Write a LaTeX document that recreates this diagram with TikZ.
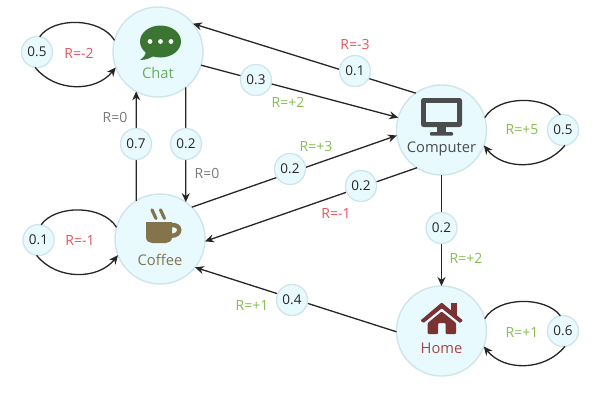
\documentclass[tikz,border=0pt]{standalone}
\usepackage{fontspec}
\setmainfont{Open Sans}
\usetikzlibrary{arrows.meta}
\definecolor{nodefill}{HTML}{E8FAFE}
\definecolor{nodeline}{HTML}{CFE5EB}
\definecolor{edgecol}{HTML}{262626}
\definecolor{rred}{HTML}{E8545C}
\definecolor{rgreen}{HTML}{86BE50}
\definecolor{rgray}{HTML}{7A7A7A}
\definecolor{chatcol}{HTML}{3A7531}
\definecolor{chattxt}{HTML}{66AD5C}
\definecolor{compcol}{HTML}{4A4C4E}
\definecolor{coffcol}{HTML}{84744B}
\definecolor{homecol}{HTML}{7B3232}
\definecolor{hometxt}{HTML}{A84444}
\tikzset{
  statenode/.style={circle,draw=nodeline,fill=nodefill,line width=1.4pt,minimum size=90pt,inner sep=0pt,outer sep=0pt},
  probnode/.style={circle,draw=nodeline,fill=nodefill,line width=1.3pt,minimum size=31pt,inner sep=0pt,outer sep=0pt,font=\fontsize{13.5}{15}\selectfont,text=black!85},
  edgeline/.style={draw=edgecol,line width=1.3pt},
  arrowline/.style={edgeline,-{Stealth[length=9pt,width=8pt]}},
  rewardlab/.style={inner sep=0pt,font=\fontsize{14}{16}\selectfont},
  namelab/.style={inner sep=0pt,anchor=base,font=\fontsize{14.7}{16}\selectfont}
}
\begin{document}
\begin{tikzpicture}[x=1pt,y=-1pt]
\useasboundingbox (0,0) rectangle (600,400);
\fill[white] (0,0) rectangle (600,400);
\node[statenode] (chat) at (158,52) {};
\node[statenode] (comp) at (441.5,130) {};
\node[statenode] (coff) at (160,239) {};
\node[statenode] (home) at (441.5,331) {};
% connectors
\draw[arrowline] (chat.-17) -- (comp.164);
\draw[arrowline] (comp.125) -- (chat.39);
\draw[arrowline] (coff.122) -- (chat.-119);
\draw[arrowline] (chat.-52) -- (coff.55);
\draw[arrowline] (coff.45) -- (comp.187);
\draw[arrowline] (comp.237) -- (coff.-3);
\draw[arrowline] (comp.south) -- (home.north);
\draw[arrowline] (home.181) -- (coff.-39);
% loop probability nodes
\node[probnode] (p1) at (37,52) {0.5};
\node[probnode] (p2) at (563,130) {0.5};
\node[probnode] (p3) at (38.5,240) {0.1};
\node[probnode] (p4) at (563,331) {0.6};
% loops
\draw[edgeline] (chat.165) .. controls +(-14,-23) and +(14,-20) .. (p1.80);
\draw[arrowline] (p1.263) .. controls +(20,25) and +(-20,25) .. (chat.200);
\draw[edgeline] (comp.16) .. controls +(14,-23) and +(-14,-19) .. (p2.100);
\draw[arrowline] (p2.-83) .. controls +(-20,25) and +(20,25) .. (comp.-20);
\draw[edgeline] (coff.165) .. controls +(-14,-23) and +(14,-20) .. (p3.80);
\draw[arrowline] (p3.263) .. controls +(20,25) and +(-20,25) .. (coff.201);
\draw[edgeline] (home.16) .. controls +(14,-23) and +(-14,-19) .. (p4.100);
\draw[arrowline] (p4.-83) .. controls +(-20,25) and +(20,25) .. (home.-20);
% edge probability nodes
\node[probnode] (q1) at (256,80) {0.3};
\node[probnode] (q2) at (355,71) {0.1};
\node[probnode] (q3) at (136,144) {0.7};
\node[probnode] (q4) at (186,144) {0.2};
\node[probnode] (q5) at (290,169) {0.2};
\node[probnode] (q6) at (361,186) {0.2};
\node[probnode] (q7) at (441.5,228) {0.2};
\node[probnode] (q8) at (292,300) {0.4};
% reward labels
\node[rewardlab,text=rred] (r1) at (79,53) {R=-2};
\node[rewardlab,text=rred] (r2) at (80,240) {R=-1};
\node[rewardlab,text=rgreen] (r3) at (522,130) {R=+5};
\node[rewardlab,text=rgreen] (r4) at (522,332) {R=+1};
\node[rewardlab,text=rred] (r5) at (355,44) {R=-3};
\node[rewardlab,text=rgreen] (r6) at (288,102) {R=+2};
\node[rewardlab,text=rgreen] (r7) at (316,146) {R=+3};
\node[rewardlab,text=rred] (r8) at (336,213) {R=-1};
\node[rewardlab,text=rgray] (r9) at (115,117) {R=0};
\node[rewardlab,text=rgray] (r10) at (207,173) {R=0};
\node[rewardlab,text=rgreen] (r11) at (466,258) {R=+2};
\node[rewardlab,text=rgreen] (r12) at (252,305) {R=+1};
% names
\node[namelab,text=chattxt] (n1) at (158,78) {Chat};
\node[namelab,text=compcol] (n2) at (441.5,152.7) {Computer};
\node[namelab,text=coffcol] (n3) at (160,265.5) {Coffee};
\node[namelab,text=hometxt] (n4) at (441.5,353.5) {Home};
% chat icon
\fill[chatcol] (160.5,41.5) ellipse [x radius=20.5pt,y radius=16pt];
\fill[chatcol] (146,51) .. controls (146,55) and (143,58) .. (140,60) .. controls (146,60) and (151,58) .. (155,55) -- cycle;
\fill[white] (150,41.5) circle (2.4pt) (160.5,41.5) circle (2.4pt) (171,41.5) circle (2.4pt);
% computer icon
\fill[compcol,rounded corners=2.5pt] (421,98) rectangle (462,127);
\fill[nodefill] (426,103) rectangle (457,122);
\fill[compcol] (437,127) rectangle (446,133);
\fill[compcol,rounded corners=1pt] (430,132) rectangle (453,135.5);
% coffee icon
\fill[coffcol] (146,222) -- (172,222) -- (172,237) .. controls (172,241) and (169,243) .. (166,243) -- (152,243) .. controls (149,243) and (146,241) .. (146,237) -- cycle;
\draw[coffcol,line width=4.4pt] (171,225.2) .. controls (182,223.5) and (182,236) .. (171,235.8);
\draw[coffcol,line width=3.2pt,line cap=round] (152,209.8) -- (156,218.5);
\draw[coffcol,line width=3.2pt,line cap=round] (160.5,209.8) -- (164.5,218.5);
% home icon
\fill[homecol] (451,303) rectangle (456.7,316);
\fill[homecol,rounded corners=0.8pt] (441.7,302.5) -- (463,320.5) -- (460,323) -- (441.7,308.3) -- (423.5,323) -- (420.5,320.5) -- cycle;
\fill[homecol,rounded corners=1pt] (441.7,311.5) -- (456,323) -- (456,334) -- (445.7,334) -- (445.7,323) -- (438,323) -- (438,334) -- (427.7,334) -- (427.7,323) -- cycle;
\end{tikzpicture}
\end{document}
